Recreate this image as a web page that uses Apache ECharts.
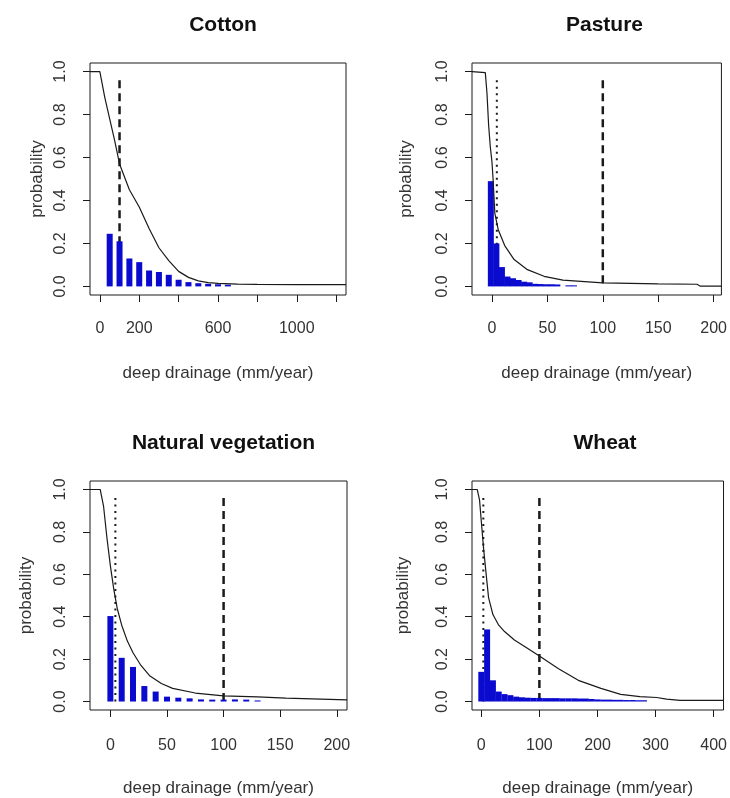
<!DOCTYPE html>
<html>
<head>
<meta charset="utf-8">
<script src="https://cdn.jsdelivr.net/npm/echarts@6/dist/echarts.min.js"></script>
<style>
  html, body { margin: 0; padding: 0; background: #fff; }
  #chart { width: 730px; height: 798px; }
</style>
</head>
<body>
<div id="chart"></div>
<script>
// histogram bins (bin position, probability) and exceedance curves
const cottonBinX = [50, 100, 150, 200, 250, 300, 350, 400, 450, 500, 550, 600, 650];
const cottonBinP = [0.245, 0.21, 0.13, 0.113, 0.074, 0.067, 0.054, 0.031, 0.02, 0.015, 0.012, 0.01, 0.008];
const cottonCurveX = [-50, 0, 25, 50, 75, 100, 150, 200, 250, 300, 350, 400, 450, 500, 550, 600, 700, 800, 1000, 1250];
const cottonCurveP = [1, 1, 0.88, 0.78, 0.68, 0.57, 0.45, 0.37, 0.27, 0.18, 0.12, 0.07, 0.042, 0.026, 0.018, 0.014, 0.011, 0.009, 0.008, 0.008];

const pastureBinX = [-1, 4, 9, 14, 19, 24, 29, 34, 39, 44, 49, 54, 59, 64, 69, 74];
const pastureBinP = [0.49, 0.2, 0.09, 0.046, 0.038, 0.03, 0.022, 0.019, 0.012, 0.011, 0.01, 0.01, 0.009, 0, 0.005, 0.005];
const pastureCurveX = [-18, -6, -4.5, -3, -1.5, 0, 1, 2.6, 5.6, 11.5, 20, 32, 47, 64, 100, 150, 185, 188, 207];
const pastureCurveP = [1, 0.995, 0.9, 0.75, 0.65, 0.58, 0.5, 0.34, 0.265, 0.19, 0.125, 0.078, 0.047, 0.029, 0.016, 0.012, 0.01, 0.001, 0.001];

const natvegBinX = [0, 10, 20, 30, 40, 50, 60, 70, 80, 90, 100, 110, 120, 130];
const natvegBinP = [0.403, 0.206, 0.163, 0.073, 0.047, 0.023, 0.018, 0.015, 0.01, 0.009, 0.009, 0.01, 0.009, 0.005];
const natvegCurveX = [-18, -9, -6, -3, 0, 3, 6, 10, 15, 20, 27, 35, 45, 55, 75, 100, 130, 155, 209];
const natvegCurveP = [1, 1, 0.92, 0.77, 0.64, 0.53, 0.44, 0.36, 0.285, 0.23, 0.17, 0.12, 0.085, 0.062, 0.04, 0.027, 0.022, 0.016, 0.008];

const wheatBinX = [0, 10, 20, 30, 40, 50, 60, 70, 80, 90, 100, 110, 120, 130, 140, 150, 160, 170, 180, 190, 200, 210, 220, 230, 240, 250, 260, 270, 280];
const wheatBinP = [0.14, 0.34, 0.1, 0.047, 0.035, 0.03, 0.023, 0.02, 0.018, 0.017, 0.017, 0.016, 0.016, 0.016, 0.015, 0.015, 0.015, 0.014, 0.014, 0.012, 0.01, 0.009, 0.009, 0.008, 0.008, 0.007, 0.007, 0.006, 0.006];
const wheatCurveX = [-16, -7, -3, 0, 4, 8, 12.5, 20, 30, 40, 57, 80, 100, 133, 167, 206, 240, 273, 302, 319, 342, 417];
const wheatCurveP = [1, 1, 0.95, 0.85, 0.72, 0.61, 0.49, 0.41, 0.36, 0.33, 0.29, 0.25, 0.215, 0.155, 0.1, 0.062, 0.034, 0.023, 0.019, 0.011, 0.005, 0.005];

// axes
const cottonTicks = [0, 200, 400, 600, 800, 1000, 1200];
const cottonLabels = [0, 200, 600, 1000];
const pastureTicks = [0, 50, 100, 150, 200];
const natvegTicks = [0, 50, 100, 150, 200];
const wheatTicks = [0, 100, 200, 300, 400];
const yTicks = [0, 0.2, 0.4, 0.6, 0.8, 1.0];

// reference lines: dashed (threshold) and dotted (median)
const dashedAt = [100, 100, 100, 100];
const dottedAt = [null, 4.4, 4.4, 3.5];
const refTop = 0.96;

const panelTitles = ['Cotton', 'Pasture', 'Natural vegetation', 'Wheat'];

const zip = (xs, ys) => xs.map((x, i) => [x, ys[i]]);

const panels = [
  { bins: zip(cottonBinX, cottonBinP), curve: zip(cottonCurveX, cottonCurveP), ticks: cottonTicks, labels: cottonLabels, min: -50, max: 1250 },
  { bins: zip(pastureBinX, pastureBinP), curve: zip(pastureCurveX, pastureCurveP), ticks: pastureTicks, labels: pastureTicks, min: -18, max: 207 },
  { bins: zip(natvegBinX, natvegBinP), curve: zip(natvegCurveX, natvegCurveP), ticks: natvegTicks, labels: natvegTicks, min: -18, max: 209 },
  { bins: zip(wheatBinX, wheatBinP), curve: zip(wheatCurveX, wheatCurveP), ticks: wheatTicks, labels: wheatTicks, min: -16, max: 417 },
];

// grid boxes in px
const boxes = [
  { left: 90, top: 63, width: 256, height: 232, yNameGap: 44, xLabelMargin: 26 },
  { left: 472, top: 63, width: 255, height: 232, yNameGap: 57, xLabelMargin: 26 },
  { left: 90, top: 481, width: 257, height: 233, yNameGap: 55, xLabelMargin: 28 },
  { left: 472, top: 481, width: 256, height: 233, yNameGap: 60, xLabelMargin: 28 },
];

const FONT = 'Liberation Sans, Arial, sans-serif';
const INK = '#1a1a1a';
const BLUE = '#0b0bd0';

const title = [], grid = [], xAxis = [], yAxis = [], series = [];

panels.forEach((p, i) => {
  const b = boxes[i];
  title.push({
    text: panelTitles[i],
    left: b.left + b.width / 2,
    top: b.top - 53,
    textAlign: 'center',
    textStyle: { fontFamily: FONT, fontSize: 21, fontWeight: 'bold', color: '#111' },
  });
  grid.push({
    left: b.left, top: b.top, width: b.width, height: b.height,
    show: true, borderColor: INK, borderWidth: 1, backgroundColor: 'transparent',
  });
  xAxis.push({
    type: 'value', gridIndex: i, min: p.min, max: p.max,
    axisLine: { show: false, onZero: false },
    splitLine: { show: false },
    axisTick: { show: true, inside: false, length: 7, customValues: p.ticks, lineStyle: { color: INK } },
    axisLabel: { customValues: p.labels, margin: b.xLabelMargin, fontFamily: FONT, fontSize: 16, color: '#333', formatter: v => String(v) },
    name: 'deep drainage (mm/year)', nameLocation: 'middle', nameGap: 70,
    nameTextStyle: { fontFamily: FONT, fontSize: 17, color: '#333' },
  });
  yAxis.push({
    type: 'value', gridIndex: i, min: -0.04, max: 1.04,
    axisLine: { show: false, onZero: false },
    splitLine: { show: false },
    axisTick: { show: true, inside: false, length: 7, customValues: yTicks, lineStyle: { color: INK } },
    axisLabel: { customValues: yTicks, rotate: 90, margin: 21, fontFamily: FONT, fontSize: 16, color: '#333', formatter: v => v.toFixed(1) },
    name: 'probability', nameLocation: 'middle', nameGap: b.yNameGap,
    nameTextStyle: { fontFamily: FONT, fontSize: 17, color: '#333' },
  });
  if (dottedAt[i] != null) {
    series.push({
      type: 'line', xAxisIndex: i, yAxisIndex: i, z: 1, silent: true,
      data: [[dottedAt[i], refTop], [dottedAt[i], 0]],
      symbol: 'none',
      lineStyle: { color: INK, width: 2, type: [2, 4.5] },
    });
  }
  series.push({
    type: 'line', xAxisIndex: i, yAxisIndex: i, z: 1, silent: true,
    data: [[dashedAt[i], refTop], [dashedAt[i], 0]],
    symbol: 'none',
    lineStyle: { color: INK, width: 2.5, type: [8, 5] },
  });
  series.push({
    type: 'bar', xAxisIndex: i, yAxisIndex: i, z: 2,
    data: p.bins, barWidth: 6,
    itemStyle: { color: BLUE },
  });
  series.push({
    type: 'line', xAxisIndex: i, yAxisIndex: i, z: 3,
    data: p.curve, symbol: 'none',
    lineStyle: { color: INK, width: 1.2 },
  });
});

const chart = echarts.init(document.getElementById('chart'));
chart.setOption({
  animation: false,
  backgroundColor: '#fff',
  title, grid, xAxis, yAxis, series,
});
</script>
</body>
</html>
